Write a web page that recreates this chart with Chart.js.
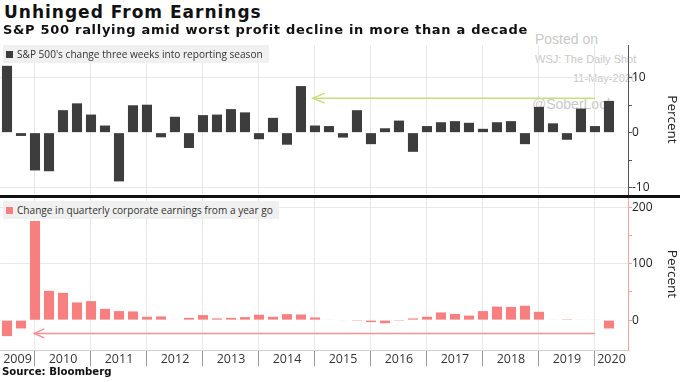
<!DOCTYPE html>
<html><head><meta charset="utf-8">
<script src="https://cdn.jsdelivr.net/npm/chart.js@4.4.1/dist/chart.umd.min.js"></script>
<style>
body{margin:0;background:#fff;}
#wrap{position:relative;width:680px;height:382px;overflow:hidden;background:#fff;font-family:'Open Sans',sans-serif;}
.abs{position:absolute;white-space:nowrap;}
#t1{left:4px;top:1.5px;font:bold 17px 'DejaVu Sans',sans-serif;letter-spacing:1px;color:#111;}
#t2{left:3px;top:22px;font:bold 13px 'DejaVu Sans',sans-serif;letter-spacing:0.7px;color:#111;}
#src{left:2px;top:366px;font:bold 10.2px 'DejaVu Sans',sans-serif;color:#111;}
.leg{background:#f0f0f0;font:10.1px 'Open Sans',sans-serif;color:#333;height:18px;line-height:18px;padding:0 6px 0 3px;}
.leg i{display:inline-block;width:7px;height:7px;margin-right:4px;vertical-align:0px;}
.wm{color:#c9c9c9;font-family:'Liberation Sans',Arial,sans-serif;}
canvas{position:absolute;left:0;}
#sep{left:0;top:195px;width:680px;height:2.5px;background:#111;}
</style></head>
<body><div id="wrap">
<div class="abs wm" style="left:535px;top:31px;font-size:14px;">Posted on</div>
<div class="abs wm" style="left:535px;top:53px;font-size:11px;">WSJ: The Daily Shot</div>
<div class="abs wm" style="left:573px;top:72px;font-size:11px;">11-May-2020</div>
<div class="abs wm" style="left:532px;top:96px;font-size:14px;">@SoberLook</div>
<canvas id="c1" width="680" height="156" style="top:40px"></canvas>
<canvas id="c2" width="680" height="185" style="top:197px"></canvas>
<div class="abs" id="t1">Unhinged From Earnings</div>
<div class="abs" id="t2">S&amp;P 500 rallying amid worst profit decline in more than a decade</div>
<div class="abs leg" style="left:3px;top:45px;"><i style="background:#3d3d3d"></i>S&amp;P 500's change three weeks into reporting season</div>
<div class="abs leg" style="left:3px;top:201px;"><i style="background:#f77f7f"></i>Change in quarterly corporate earnings from a year go</div>
<div class="abs" id="sep"></div>
<div class="abs" id="src">Source: Bloomberg</div>
</div>
<script>
// ---- data ----
const years = ['2009','2010','2011','2012','2013','2014','2015','2016','2017','2018','2019','2020'];
const firstBarOf2010 = 2; // index of first quarterly bar in 2010
const spxChange = [12.2,-0.6,-6.9,-7.05,4.1,5.35,3.3,1.3,-8.9,5.0,5.1,-0.85,2.9,-2.8,3.2,3.3,4.3,3.7,-1.2,2.7,-2.2,8.5,1.3,1.2,-0.9,4.1,-2.1,0.8,2.2,-3.5,1.2,1.9,2.1,1.8,0.7,1.9,2.1,-2.1,4.7,1.7,-1.3,4.4,1.2,5.8];
const earningsChange = [-28.4,-14.8,176,52,48.5,31.4,33.7,20,16,15.4,5.9,6.5,1,4,8.9,3,4,5.3,9.5,5.9,10.6,10,4.7,1,-1,-1.5,-3.5,-5.5,-1.5,3,6,13.6,11,8,16,24,23.5,25.5,14.8,1,1.5,1,1,-14.8];
const spxTicks = [-10,-5,0,5,10];
const spxLabeled = [-10,0,10];
const earnTicks = [0,50,100,150,200];
const earnLabeled = [0,100,200];
const greenArrow = {from:21.85, to:42, value:6.3};
const pinkArrow = {from:1.95, to:42, value:-23.6};

const quarters = spxChange.map((_,i)=>i);
const X_MIN = -0.5, X_MAX = 44.36;
const boundaries = years.map((y,k)=>firstBarOf2010 + 4*(k-1));
const visBoundaries = boundaries.filter(b=>b>X_MIN && b<X_MAX);
const centers = years.map((y,k)=>{
  const s=Math.max(boundaries[k],X_MIN), e=Math.min(boundaries[k]+4,X_MAX); return (s+e)/2;});
const xTickVals = visBoundaries.concat(centers).sort((a,b)=>a-b);
const isBoundary = v => visBoundaries.some(b=>Math.abs(b-v)<1e-6);

function xAxis(show){
  return {type:'linear', min:X_MIN, max:X_MAX, bounds:'data', offset:false,
    afterBuildTicks:s=>{s.ticks = xTickVals.map(v=>({value:v}));},
    ticks:{display:show, autoSkip:false, maxRotation:0, minRotation:0, padding:-14, color:'#333',
      font:{family:'Open Sans', size:12.5},
      callback:(v)=>{const k=centers.findIndex(c=>Math.abs(c-v)<1e-6); return k>=0?years[k]:'';}},
    grid:{offset:false, drawTicks:show, tickLength:16,
      color:c=>(c.tick&&isBoundary(c.tick.value))?'#e8e8e8':'rgba(0,0,0,0)',
      tickColor:c=>(c.tick&&isBoundary(c.tick.value))?'#9a9a9a':'rgba(0,0,0,0)'},
    border:{display:show, color:'#cfcfcf'},
    afterFit:s=>{s.height = show?16:0; s.paddingLeft=0; s.paddingRight=0;}
  };
}
function yAxis(min,max,ticks,labeled,axisColor,gridVals){
  return {position:'right', min, max, bounds:'data',
    afterBuildTicks:s=>{s.ticks = ticks.map(v=>({value:v}));},
    ticks:{padding:0, color:'#222', font:{family:'Open Sans', size:12},
      callback:v=>labeled.includes(v)?String(v):''},
    grid:{tickLength:4, color:c=>(c.tick&&gridVals.includes(c.tick.value))?'#e8e8e8':'rgba(0,0,0,0)', tickColor:axisColor},
    border:{color:axisColor, width:1},
    title:{display:true, text:'Percent', color:'#222', font:{family:'Open Sans', size:13.5}, padding:{top:0,bottom:2}},
    afterFit:s=>{s.width = 52; s.paddingTop=0; s.paddingBottom=0;}
  };
}
const arrowPlugin = {id:'arrowHeads', afterDatasetsDraw(chart){
  chart.data.datasets.forEach((ds,i)=>{
    if(!ds.arrowHead) return;
    const meta=chart.getDatasetMeta(i); const p=meta.data[meta.data.length-1];
    const ctx=chart.ctx; ctx.save(); ctx.strokeStyle=ds.borderColor; ctx.lineWidth=ds.borderWidth;
    ctx.beginPath(); ctx.moveTo(p.x+ds.arrowHead.len,p.y-ds.arrowHead.half); ctx.lineTo(p.x,p.y);
    ctx.lineTo(p.x+ds.arrowHead.len,p.y+ds.arrowHead.half); ctx.stroke(); ctx.restore();
  });
}};
const common = {responsive:false, animation:false, devicePixelRatio:1,
  plugins:{legend:{display:false}, tooltip:{enabled:false}}};

new Chart(document.getElementById('c1'), {
  type:'bar',
  data:{datasets:[
    {type:'line', data:[{x:greenArrow.to,y:greenArrow.value},{x:greenArrow.from,y:greenArrow.value}],
     borderColor:'#c8de80', borderWidth:1.5, pointRadius:0, arrowHead:{len:12,half:5}, order:0},
    {type:'bar', data:quarters.map(i=>({x:i,y:spxChange[i]})), backgroundColor:'#3d3d3d',
     categoryPercentage:1, barPercentage:0.72, order:1}
  ]},
  options:Object.assign({}, common, {layout:{padding:{top:5,bottom:2,left:0,right:0}},
    scales:{x:xAxis(false), y:yAxis(-11.2,16,spxTicks,spxLabeled,'#555',[-10,10])}}),
  plugins:[arrowPlugin]
});
new Chart(document.getElementById('c2'), {
  type:'bar',
  data:{datasets:[
    {type:'line', data:[{x:pinkArrow.to,y:pinkArrow.value},{x:pinkArrow.from,y:pinkArrow.value}],
     borderColor:'#f29292', borderWidth:1.5, pointRadius:0, arrowHead:{len:10,half:4.5}, order:0},
    {type:'bar', data:quarters.map(i=>({x:i,y:earningsChange[i]})), backgroundColor:'#f77f7f',
     categoryPercentage:1, barPercentage:0.72, order:1}
  ]},
  options:Object.assign({}, common, {layout:{padding:{top:1,bottom:16,left:0,right:0}},
    scales:{x:xAxis(true), y:yAxis(-53,216.7,earnTicks,earnLabeled,'#f4a3a3',[100,200])}}),
  plugins:[arrowPlugin]
});
</script>
</body></html>
